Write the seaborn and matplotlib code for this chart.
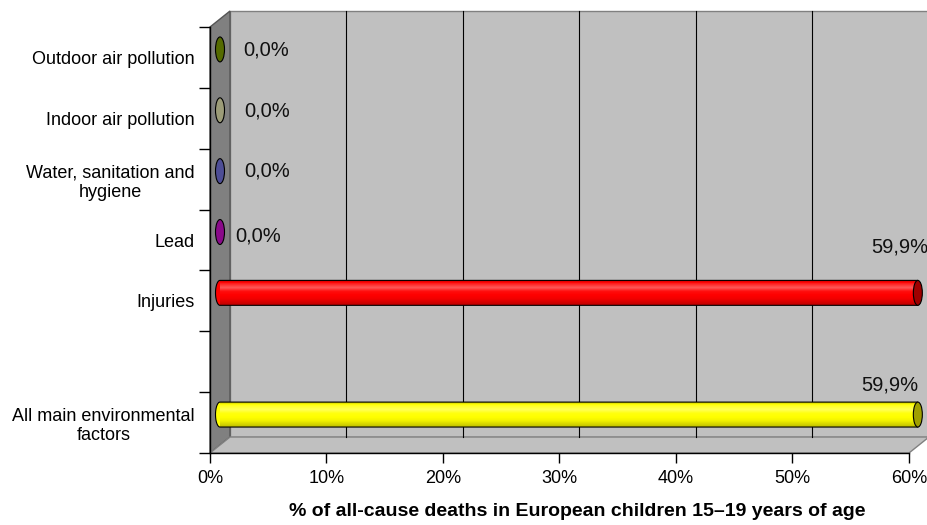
import matplotlib
matplotlib.use("Agg")
import matplotlib.pyplot as plt
import seaborn as sns
import numpy as np
import pandas as pd
from matplotlib.patches import Polygon, Ellipse, Rectangle
from matplotlib.colors import to_rgb

# ---------------- data ----------------
categories = ["Outdoor air pollution", "Indoor air pollution",
              "Water, sanitation and\nhygiene", "Lead", "Injuries",
              "All main environmental\nfactors"]
values = [0.0, 0.0, 0.0, 0.0, 59.9, 59.9]
value_labels = ["0,0%", "0,0%", "0,0%", "0,0%", "59,9%", "59,9%"]
bar_colors = ["#556B00", "#9C9C78", "#4E4E96", "#8A0A8A", "#FF0000", "#FFFF00"]
cap_colors = ["#556B00", "#9C9C78", "#4E4E96", "#8A0A8A", "#A00000", "#A0A000"]
xticks = [0, 10, 20, 30, 40, 50, 60]
xtick_labels = ["0%", "10%", "20%", "30%", "40%", "50%", "60%"]
xlabel = "% of all-cause deaths in European children 15\u201319 years of age"

# slot order: one empty slot between Injuries and the total
order = categories[:5] + [" "] + categories[5:]

df = pd.DataFrame({"category": categories, "value": values})

# ---------------- layout (pixels) ----------------
W, H = 928, 525
DPI = 100
fig = plt.figure(figsize=(W / DPI, H / DPI), dpi=DPI)
fig.patch.set_facecolor("white")

def fx(px):
    return px / W

def fy(py):
    return 1 - py / H

FX0, FX1, FY0, FY1 = 210, 909, 27, 453   # front plane
DX, DY = 20, -16                          # depth offset to back wall
XMAX = 60

plt.rcParams["font.family"] = ["Liberation Sans", "DejaVu Sans"]

# background axes in pixel coordinates for the 3D walls
bg = fig.add_axes([0, 0, 1, 1], zorder=0)
bg.set_xlim(0, W)
bg.set_ylim(H, 0)
bg.axis("off")

wall_c = "#C0C0C0"
side_c = "#808080"
edge_c = "#808080"
# back wall
bg.add_patch(Rectangle((FX0 + DX, FY0 + DY), FX1 - FX0, FY1 - FY0,
                       facecolor=wall_c, edgecolor=edge_c, lw=1.0))
# gridlines on the back wall
for v in xticks[1:]:
    gx = FX0 + DX + v / XMAX * (FX1 - FX0)
    bg.plot([gx, gx], [FY0 + DY, FY1 + DY], color="#000000", lw=0.8)
# left side wall
bg.add_patch(Polygon([(FX0, FY0), (FX0 + DX, FY0 + DY), (FX0 + DX, FY1 + DY), (FX0, FY1)],
                     closed=True, facecolor=side_c, edgecolor="#555555", lw=1.0))
# floor
bg.add_patch(Polygon([(FX0, FY1), (FX0 + DX, FY1 + DY), (FX1 + DX, FY1 + DY), (FX1, FY1)],
                     closed=True, facecolor=wall_c, edgecolor=edge_c, lw=1.0))

# front-plane axes: ticks and labels
axf = fig.add_axes([fx(FX0), fy(FY1), (FX1 - FX0) / W, (FY1 - FY0) / H], zorder=1)
axf.patch.set_alpha(0)
n = len(order)
axf.set_xlim(0, XMAX)
axf.set_ylim(n - 0.5, -0.5)
for s in ["top", "right"]:
    axf.spines[s].set_visible(False)
axf.spines["left"].set_color("black")
axf.spines["bottom"].set_color("black")
axf.spines["left"].set_linewidth(1.0)
axf.spines["bottom"].set_linewidth(1.0)
axf.set_yticks(np.arange(-0.5, n, 1.0))
axf.set_yticklabels([])
axf.set_yticks(np.arange(n), minor=True)
axf.set_yticklabels(order, minor=True, fontsize=13, multialignment="center")
axf.tick_params(axis="y", which="major", length=8, width=1.0, direction="out", color="black")
axf.tick_params(axis="y", which="minor", length=0, pad=11)
axf.set_xticks(xticks)
axf.set_xticklabels(xtick_labels, fontsize=13)
axf.tick_params(axis="x", length=7, width=1.0, direction="out", color="black", pad=5)

# bar-plane axes (mid depth)
axb = fig.add_axes([fx(FX0 + DX / 2), fy(FY1 + DY / 2), (FX1 - FX0) / W, (FY1 - FY0) / H], zorder=2)
axb.patch.set_alpha(0)

palette = dict(zip(categories, bar_colors))
sns.barplot(data=df, x="value", y="category", hue="category", order=order,
            hue_order=categories, palette=palette, legend=False, dodge=False,
            width=0.41, orient="h", edgecolor="none", linewidth=0,
            saturation=1, ax=axb)
axb.set_xlim(0, XMAX)
axb.set_ylim(n - 0.5, -0.5)
axb.axis("off")

px_per_x = (FX1 - FX0) / XMAX
cap_w = 9 / px_per_x

bars = [p for p in axb.patches if isinstance(p, Rectangle)]
ycats = {order.index(c): i for i, c in enumerate(categories)}

def shade(rgb, f):
    rgb = np.array(rgb)
    if f >= 0:
        return rgb + (1 - rgb) * f
    return rgb * (1 + f)

th = np.linspace(0, np.pi, 40)
for p in bars:
    p.set_clip_on(False)
    yc = p.get_y() + p.get_height() / 2
    slot = int(round(yc))
    if slot not in ycats:
        continue
    i = ycats[slot]
    x0, w, hgt = p.get_x(), p.get_width(), p.get_height()
    base = to_rgb(bar_colors[i])
    z = p.get_zorder()
    if w > 0:
        # body outline: left half-ellipse + straight sides
        left = np.column_stack([x0 - cap_w / 2 * np.sin(th), yc - hgt / 2 * np.cos(th)])
        pts = np.vstack([left, [[x0 + w, yc + hgt / 2], [x0 + w, yc - hgt / 2]]])
        body = Polygon(pts, closed=True, facecolor=base, edgecolor="none",
                       clip_on=False, zorder=z + 0.01)
        axb.add_patch(body)
        # cylinder shading
        t = np.linspace(0, 1, 60)
        prof = np.interp(t, [0, 0.12, 0.3, 0.45, 0.75, 1.0],
                         [-0.25, 0.1, 0.35, 0.05, -0.05, -0.25])
        grad = np.array([shade(base, f) for f in prof]).clip(0, 1)[:, None, :]
        im = axb.imshow(grad, extent=[x0 - cap_w / 2, x0 + w, yc + hgt / 2, yc - hgt / 2],
                        aspect="auto", zorder=z + 0.05, interpolation="bilinear")
        im.set_clip_path(body)
        axb.add_patch(Polygon(pts, closed=True, fill=False, edgecolor="black", lw=0.8,
                              clip_on=False, zorder=z + 0.1))
        # right end cap
        axb.add_patch(Ellipse((x0 + w, yc), cap_w, hgt, facecolor=cap_colors[i], clip_on=False,
                              edgecolor="black", lw=0.8, zorder=z + 0.2))
    else:
        axb.add_patch(Ellipse((x0, yc), cap_w, hgt, facecolor=base, clip_on=False,
                              edgecolor="black", lw=0.8, zorder=z + 0.2))

axb.set_xlim(0, XMAX)
axb.set_ylim(n - 0.5, -0.5)

# data labels (Excel-style placement offsets in pixels)
label_offsets = [(23, -1, "left"), (24, -1, "left"), (24, 0, "left"),
                 (15, -4, "left"), (11, 46, "right"), (1, 30, "right")]
for i, (c, v, lab) in enumerate(zip(categories, values, value_labels)):
    slot = order.index(c)
    ox, oy, ha = label_offsets[i]
    axb.annotate(lab, xy=(v, slot), xytext=(ox, oy), textcoords="offset pixels",
                 ha=ha, va="center", fontsize=14.5, color="#111111", zorder=10,
                 annotation_clip=False)

fig.text(fx(577), fy(512), xlabel, ha="center", va="center",
         fontsize=14, fontweight="bold")

fig.savefig("out.png", dpi=DPI)
